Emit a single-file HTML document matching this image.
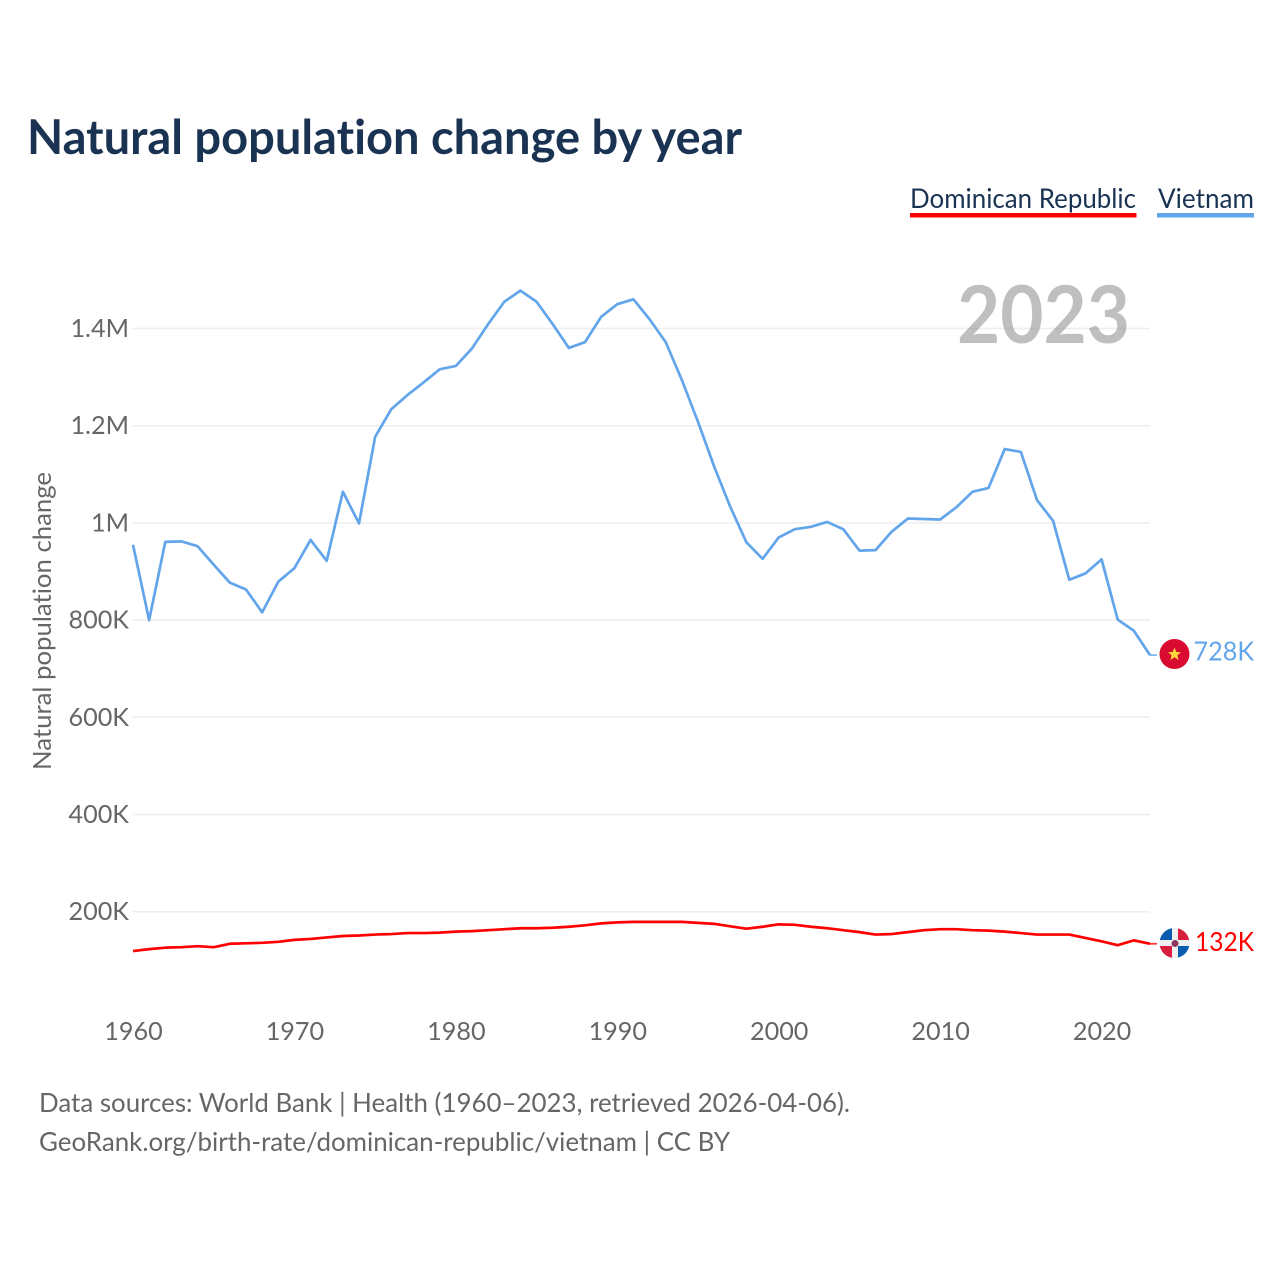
<!DOCTYPE html>
<html lang="en">
<head>
<meta charset="utf-8">
<title>Natural population change by year</title>
<style>
  html, body { margin: 0; padding: 0; background: #fff; }
  svg { display: block; font-family: "Lato", "Carlito", "Liberation Sans", sans-serif; font-variant-ligatures: none; }
</style>
</head>
<body>
<svg id="chart" xmlns="http://www.w3.org/2000/svg" width="1280" height="1280" viewBox="0 0 1280 1280">
  <rect width="1280" height="1280" fill="#fff"/>
  <text x="27" y="154" font-size="48" font-weight="700" fill="#1a3353" textLength="715" lengthAdjust="spacingAndGlyphs">Natural population change by year</text>

  <g>
    <text x="910" y="208" font-size="27" fill="#1a3353" textLength="226" lengthAdjust="spacingAndGlyphs">Dominican Republic</text>
    <rect x="910" y="213" width="226.500" height="4.500" fill="#ff0000"/>
  </g>
  <g>
    <text x="1158" y="208" font-size="27" fill="#1a3353" textLength="96" lengthAdjust="spacingAndGlyphs">Vietnam</text>
    <rect x="1157" y="213" width="97" height="4.500" fill="#62a5ea"/>
  </g>

  <text transform="translate(51 621) rotate(-90)" text-anchor="middle" font-size="25" fill="#666" textLength="298" lengthAdjust="spacingAndGlyphs">Natural population change</text>

  <g id="grid"></g>
  <g id="yticks"></g>
  <g id="xticks"></g>

  <text x="957" y="343" font-size="80" font-weight="700" fill="#808080" fill-opacity="0.5" textLength="173" lengthAdjust="spacingAndGlyphs">2023</text>

  <g id="series"></g>

  <g>
    <circle cx="1174.500" cy="654" r="15" fill="#da0b30"/>
    <polygon points="1174.500,647.500 1176.300,652 1181,652.200 1177.400,655.200 1178.600,660 1174.500,657.300 1170.400,660 1171.600,655.200 1168,652.200 1172.700,652" fill="#ffd83a"/>
  </g>
  <text id="label-vn" x="1193.500" y="660.500" font-size="26" fill="#62a5ea" textLength="60.500" lengthAdjust="spacingAndGlyphs">728K</text>

  <g>
    <clipPath id="dr-clip"><circle cx="1174.500" cy="943" r="15"/></clipPath>
    <g clip-path="url(#dr-clip)">
      <rect x="1159" y="928" width="31" height="30" fill="#eef0f2"/>
      <rect x="1159" y="928" width="13" height="12" fill="#0b5cae"/>
      <rect x="1178" y="928" width="12" height="12" fill="#d81e3c"/>
      <rect x="1159" y="946" width="13" height="12" fill="#d81e3c"/>
      <rect x="1178" y="946" width="12" height="12" fill="#0b5cae"/>
      <circle cx="1175" cy="943.500" r="3.500" fill="#8a3a5c"/>
    </g>
  </g>
  <text id="label-dr" x="1195" y="951" font-size="26" fill="#ff0000" textLength="59" lengthAdjust="spacingAndGlyphs">132K</text>

  <text x="39" y="1112" font-size="26" fill="#666" textLength="811" lengthAdjust="spacingAndGlyphs">Data sources: World Bank | Health (1960–2023, retrieved 2026-04-06).</text>
  <text x="39" y="1151" font-size="26" fill="#666" textLength="691" lengthAdjust="spacingAndGlyphs">GeoRank.org/birth-rate/dominican-republic/vietnam | CC BY</text>
</svg>

<script>
const years = [];
for (let yr = 1960; yr <= 2023; yr++) years.push(yr);

// values in thousands
const vietnam = [
  955, 800, 961, 962, 952, 914, 877, 863, 816, 879,
  907, 965, 922, 1064, 999, 1177, 1234, 1263, 1289, 1316,
  1323, 1359, 1409, 1455, 1478, 1455, 1409, 1360, 1372, 1424,
  1450, 1460, 1419, 1372, 1294, 1208, 1116, 1033, 960, 926,
  970, 987, 992, 1002, 987, 943, 944, 982, 1009, 1008,
  1007, 1032, 1064, 1072, 1152, 1146, 1047, 1004, 883, 896,
  925, 801, 778, 728
];
const dominicanRepublic = [
  119, 123, 126, 127, 129, 127, 134, 135, 136, 138,
  142, 144, 147, 150, 151, 153, 154, 156, 156, 157,
  159, 160, 162, 164, 166, 166, 167, 169, 172, 176,
  178, 179, 179, 179, 179, 177, 175, 170, 165, 169,
  174, 173, 169, 166, 162, 158, 153, 154, 158, 162,
  164, 164, 162, 161, 159, 156, 153, 153, 153, 146,
  139, 131, 141, 134
];
const yTickValues = [200, 400, 600, 800, 1000, 1200, 1400];
const yTickLabels = ["200K", "400K", "600K", "800K", "1M", "1.2M", "1.4M"];
const xTickValues = [1960, 1970, 1980, 1990, 2000, 2010, 2020];
const xTickLabels = ["1960", "1970", "1980", "1990", "2000", "2010", "2020"];

const NS = "http://www.w3.org/2000/svg";
function xScale(yr) { return 133 + (yr - 1960) * (1017 / 63); }
function yScale(v) { return 1008.9 - v * 0.486; }
function make(tag, attrs, parent) {
  const el = document.createElementNS(NS, tag);
  for (const k in attrs) el.setAttribute(k, attrs[k]);
  parent.appendChild(el);
  return el;
}

const grid = document.getElementById("grid");
const yticks = document.getElementById("yticks");
const xticks = document.getElementById("xticks");
const seriesGroup = document.getElementById("series");

yTickValues.forEach(function (v, i) {
  const line = make("line", { x1: 133, x2: 1150, y1: yScale(v), y2: yScale(v), stroke: "#eeeeee", "stroke-width": 1.5 }, grid);
  
  
  const label = make("text", { x: 129, y: yScale(v) + 8.5, "text-anchor": "end", "font-size": 25.2, fill: "#666" }, yticks);
  
  
  label.textContent = yTickLabels[i];
});

xTickValues.forEach(function (yr, i) {
  const label = make("text", { x: xScale(yr) + 0.5, y: 1040, "text-anchor": "middle", "font-size": 25.2, fill: "#666" }, xticks);
  
  
  label.textContent = xTickLabels[i];
});

function drawSeries(values, color, name) {
  const pts = values.map(function (v, i) { return xScale(years[i]).toFixed(2) + "," + yScale(v).toFixed(2); }).join(" ");
  const path = make("polyline", { points: pts, fill: "none", stroke: color, "stroke-width": 2.7, "stroke-linejoin": "round" }, seriesGroup);
  
  
  const last = values[values.length - 1];
  const lastX = xScale(years[years.length - 1]);
  const stub = make("line", { x1: lastX, x2: lastX + 7, y1: yScale(last), y2: yScale(last), stroke: color, "stroke-width": 1.8, "stroke-opacity": 0.8 }, seriesGroup);
  
  
}

drawSeries(dominicanRepublic, "#ff0000", "line-dominican-republic");
drawSeries(vietnam, "#62a5ea", "line-vietnam");
</script>
</body>
</html>
